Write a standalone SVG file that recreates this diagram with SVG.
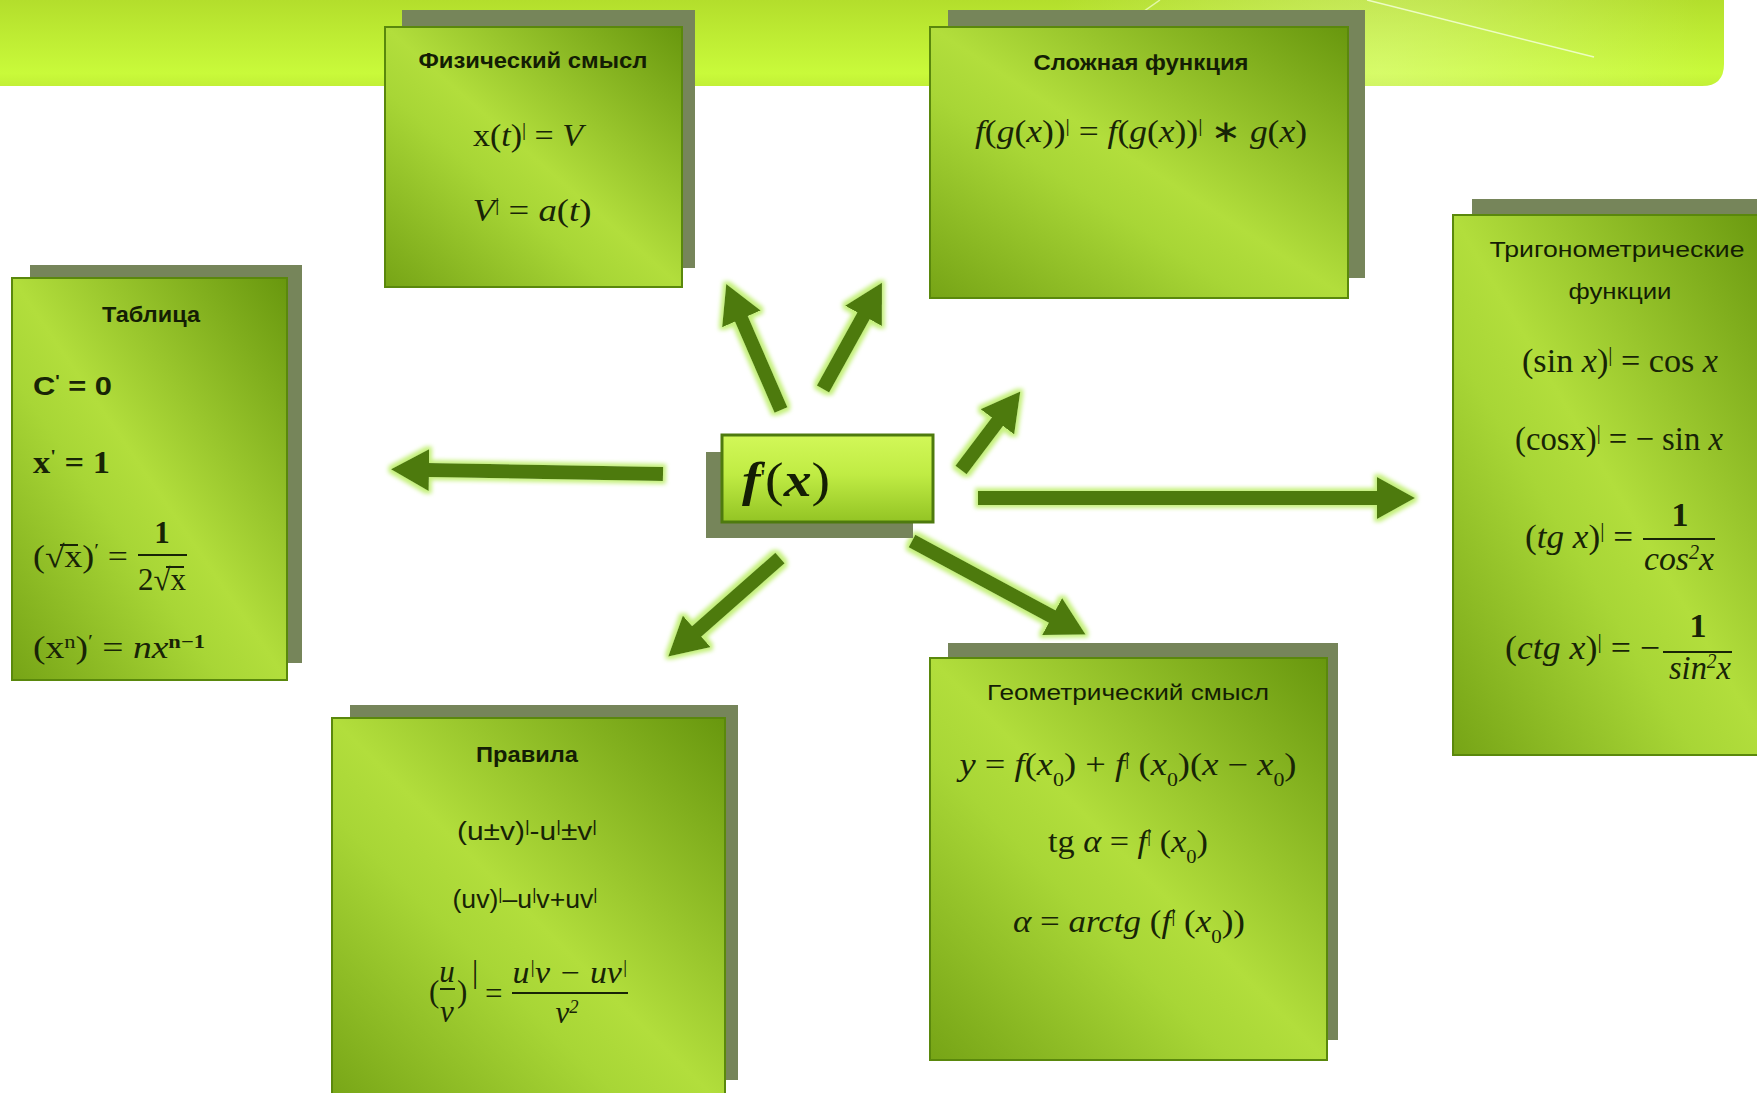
<svg xmlns="http://www.w3.org/2000/svg" width="1757" height="1093" viewBox="0 0 1757 1093">
<defs>
<linearGradient id="banner" x1="0" y1="0" x2="0" y2="1">
<stop offset="0" stop-color="#b3de2c"/>
<stop offset="0.85" stop-color="#c9fa3a"/>
<stop offset="1" stop-color="#c2f036"/>
</linearGradient>
<radialGradient id="bannerGlow" cx="1380" cy="70" r="330" gradientUnits="userSpaceOnUse">
<stop offset="0" stop-color="#f0ffc0" stop-opacity="0.35"/>
<stop offset="1" stop-color="#f0ffc0" stop-opacity="0"/>
</radialGradient>
<linearGradient id="boxFill" x1="1" y1="0" x2="0" y2="1">
<stop offset="0" stop-color="#68970e"/>
<stop offset="0.5" stop-color="#b2de3c"/>
<stop offset="0.62" stop-color="#a8d636"/>
<stop offset="1" stop-color="#76a416"/>
</linearGradient>
<linearGradient id="centerFill" x1="0" y1="0" x2="0" y2="1">
<stop offset="0" stop-color="#d2f858"/>
<stop offset="0.45" stop-color="#c0ec44"/>
<stop offset="1" stop-color="#93c424"/>
</linearGradient>
<marker id="head" markerUnits="userSpaceOnUse" markerWidth="38" markerHeight="42" viewBox="0 0 38 42" refX="1" refY="21" orient="auto">
<path d="M0,0 L38,21 L0,42 Z" fill="#4e7a0e"/>
</marker>
<filter id="glow" filterUnits="userSpaceOnUse" x="0" y="0" width="1757" height="1093">
<feMorphology in="SourceAlpha" operator="dilate" radius="2.5" result="d"/>
<feGaussianBlur in="d" stdDeviation="2" result="b"/>
<feFlood flood-color="#c4f07a"/>
<feComposite in2="b" operator="in" result="g"/>
<feMerge><feMergeNode in="g"/><feMergeNode in="SourceGraphic"/></feMerge>
</filter>
</defs>
<style>
.shadow{fill:#76855a}
.box{fill:url(#boxFill);stroke:#5a880c;stroke-width:2}
.title{font-family:"Liberation Sans",Arial,sans-serif;font-size:22px;font-weight:bold;fill:#141e04;text-anchor:middle}
.title2{font-family:"Liberation Sans",Arial,sans-serif;font-size:22px;fill:#141e04;text-anchor:middle}
.f{font-family:"Liberation Serif","Times New Roman",serif;font-size:31px;fill:#182406}
.ft{font-size:34px}
.fs{font-family:"Liberation Sans",Arial,sans-serif;font-size:26px;fill:#182406}
.c{text-anchor:middle}
.i{font-style:italic}
.b{font-weight:bold}
.sup{font-size:60%;baseline-shift:super}
.sub{font-size:60%;baseline-shift:sub}
.bar{stroke:#182406;stroke-width:2}
.conn{fill:none;stroke:#4e7a0e;stroke-width:14;marker-end:url(#head)}
</style>
<rect width="1757" height="1093" fill="#ffffff"/>
<g id="banner-bg">
<path d="M0,0 H1724 V64 Q1724,86 1702,86 H0 Z" fill="url(#banner)"/>
<path d="M0,0 H1724 V64 Q1724,86 1702,86 H0 Z" fill="url(#bannerGlow)"/>
<line x1="1367" y1="0" x2="1594" y2="57" stroke="#f3ffd6" stroke-width="1.5" opacity="0.85"/>
<line x1="1160" y1="0" x2="1040" y2="84" stroke="#f3ffd6" stroke-width="1.5" opacity="0.7"/>
</g>
<g id="connectors" filter="url(#glow)">
<line class="conn" x1="663" y1="474" x2="428" y2="470"/>
<line class="conn" x1="781" y1="410" x2="741" y2="318"/>
<line class="conn" x1="823" y1="389" x2="864" y2="315"/>
<line class="conn" x1="961" y1="470" x2="998" y2="421"/>
<line class="conn" x1="978" y1="498" x2="1378" y2="498"/>
<line class="conn" x1="780" y1="558" x2="696" y2="632"/>
<line class="conn" x1="912" y1="541" x2="1053" y2="617"/>
</g>
<g id="node-fizicheskiy">
<rect class="shadow" x="402" y="10" width="293" height="258"/>
<rect class="box" x="385" y="27" width="297" height="260"/>
<text class="title" x="533" y="68" textLength="229" lengthAdjust="spacingAndGlyphs">Физический смысл</text>
<text class="f c" x="528" y="146" textLength="110" lengthAdjust="spacingAndGlyphs">x(<tspan class="i">t</tspan>)<tspan class="sup">|</tspan> = <tspan class="i">V</tspan></text>
<text class="f c" x="532" y="221" textLength="119" lengthAdjust="spacingAndGlyphs"><tspan class="i">V</tspan><tspan class="sup">|</tspan> = <tspan class="i">a</tspan>(<tspan class="i">t</tspan>)</text>
</g>
<g id="node-slozhnaya">
<rect class="shadow" x="948" y="10" width="417" height="268"/>
<rect class="box" x="930" y="27" width="418" height="271"/>
<text class="title" x="1141" y="70" textLength="215" lengthAdjust="spacingAndGlyphs">Сложная функция</text>
<text class="f c" x="1141" y="142" textLength="332" lengthAdjust="spacingAndGlyphs"><tspan class="i">f</tspan>(<tspan class="i">g</tspan>(<tspan class="i">x</tspan>))<tspan class="sup">|</tspan> = <tspan class="i">f</tspan>(<tspan class="i">g</tspan>(<tspan class="i">x</tspan>))<tspan class="sup">|</tspan> ∗ <tspan class="i">g</tspan>(<tspan class="i">x</tspan>)</text>
</g>
<g id="node-tablica">
<rect class="shadow" x="30" y="265" width="272" height="398"/>
<rect class="box" x="12" y="278" width="275" height="402"/>
<text class="title" x="151" y="322" textLength="98" lengthAdjust="spacingAndGlyphs">Таблица</text>
<text class="fs b" x="33" y="395" textLength="79" lengthAdjust="spacingAndGlyphs">C<tspan class="sup">'</tspan> = 0</text>
<text class="f b" x="33" y="473" textLength="77" lengthAdjust="spacingAndGlyphs">x<tspan class="sup">'</tspan> = 1</text>
<text class="f" x="33" y="567" textLength="95" lengthAdjust="spacingAndGlyphs">(√x)<tspan class="sup">′</tspan> =</text>
<line class="bar" x1="60" y1="545" x2="78" y2="545" stroke-width="1.5"/>
<text class="f b c" x="162" y="543">1</text>
<line class="bar" x1="138" y1="555" x2="187" y2="555"/>
<text class="f c" x="162" y="590">2√x</text>
<line class="bar" x1="166" y1="567" x2="184" y2="567" stroke-width="1.5"/>
<text class="f" x="33" y="658" textLength="172" lengthAdjust="spacingAndGlyphs">(x<tspan class="sup">n</tspan>)<tspan class="sup">′</tspan> = <tspan class="i">nx</tspan><tspan class="sup b">n−1</tspan></text>
</g>
<g id="node-trig">
<rect class="shadow" x="1472" y="199" width="300" height="538"/>
<rect class="box" x="1453" y="215" width="320" height="540"/>
<text class="title2" x="1617" y="257" font-size="24" textLength="255" lengthAdjust="spacingAndGlyphs">Тригонометрические</text>
<text class="title2" x="1620" y="299" font-size="24" textLength="103" lengthAdjust="spacingAndGlyphs">функции</text>
<text class="f ft c" x="1620" y="372" textLength="196" lengthAdjust="spacingAndGlyphs">(sin <tspan class="i">x</tspan>)<tspan class="sup">|</tspan> = cos <tspan class="i">x</tspan></text>
<text class="f ft c" x="1619" y="450" textLength="208" lengthAdjust="spacingAndGlyphs">(cosx)<tspan class="sup">|</tspan> = − sin <tspan class="i">x</tspan></text>
<text class="f ft" x="1525" y="548" textLength="108" lengthAdjust="spacingAndGlyphs">(<tspan class="i">tg x</tspan>)<tspan class="sup">|</tspan> =</text>
<text class="f ft b c" x="1680" y="526">1</text>
<line class="bar" x1="1643" y1="539" x2="1715" y2="539"/>
<text class="f ft i c" x="1679" y="570" textLength="70" lengthAdjust="spacingAndGlyphs">cos<tspan class="sup">2</tspan>x</text>
<text class="f ft" x="1505" y="659" textLength="155" lengthAdjust="spacingAndGlyphs">(<tspan class="i">ctg x</tspan>)<tspan class="sup">|</tspan> = −</text>
<text class="f ft b c" x="1698" y="637">1</text>
<line class="bar" x1="1663" y1="652" x2="1732" y2="652"/>
<text class="f ft i c" x="1700" y="679" textLength="62" lengthAdjust="spacingAndGlyphs">sin<tspan class="sup">2</tspan>x</text>
</g>
<g id="node-pravila">
<rect class="shadow" x="350" y="705" width="388" height="375"/>
<rect class="box" x="332" y="718" width="393" height="390"/>
<text class="title" x="527" y="762" textLength="102" lengthAdjust="spacingAndGlyphs">Правила</text>
<text class="fs c" x="527" y="840" textLength="140" lengthAdjust="spacingAndGlyphs">(u±v)<tspan class="sup">|</tspan>-u<tspan class="sup">|</tspan>±v<tspan class="sup">|</tspan></text>
<text class="fs c" x="525" y="908" textLength="145" lengthAdjust="spacingAndGlyphs">(uv)<tspan class="sup">|</tspan>–u<tspan class="sup">|</tspan>v+uv<tspan class="sup">|</tspan></text>
<text class="f" x="429" y="1002" font-size="38">(</text>
<text class="f i c" x="447" y="982" font-size="24">u</text>
<line class="bar" x1="440" y1="989" x2="455" y2="989"/>
<text class="f i c" x="447" y="1022" font-size="24">v</text>
<text class="f" x="457" y="1002" font-size="38">)</text>
<text class="f" x="472" y="982" font-size="16">|</text>
<text class="f" x="485" y="1004">=</text>
<text class="f i c" x="570" y="983" textLength="115" lengthAdjust="spacingAndGlyphs">u<tspan class="sup">|</tspan>v − uv<tspan class="sup">|</tspan></text>
<line class="bar" x1="512" y1="993" x2="628" y2="993"/>
<text class="f i c" x="567" y="1023">v<tspan class="sup">2</tspan></text>
</g>
<g id="node-geometr">
<rect class="shadow" x="948" y="643" width="390" height="397"/>
<rect class="box" x="930" y="658" width="397" height="402"/>
<text class="title2" x="1128" y="700" textLength="282" lengthAdjust="spacingAndGlyphs">Геометрический смысл</text>
<text class="f c" x="1128" y="775" textLength="337" lengthAdjust="spacingAndGlyphs"><tspan class="i">y</tspan> = <tspan class="i">f</tspan>(<tspan class="i">x</tspan><tspan class="sub">0</tspan>) + <tspan class="i">f</tspan><tspan class="sup">|</tspan> (<tspan class="i">x</tspan><tspan class="sub">0</tspan>)(<tspan class="i">x</tspan> − <tspan class="i">x</tspan><tspan class="sub">0</tspan>)</text>
<text class="f c" x="1128" y="852" textLength="160" lengthAdjust="spacingAndGlyphs">tg <tspan class="i">α</tspan> = <tspan class="i">f</tspan><tspan class="sup">|</tspan> (<tspan class="i">x</tspan><tspan class="sub">0</tspan>)</text>
<text class="f c" x="1129" y="932" textLength="232" lengthAdjust="spacingAndGlyphs"><tspan class="i">α</tspan> = <tspan class="i">arctg</tspan> (<tspan class="i">f</tspan><tspan class="sup">|</tspan> (<tspan class="i">x</tspan><tspan class="sub">0</tspan>))</text>
</g>
<g id="node-center">
<rect class="shadow" x="706" y="452" width="207" height="86"/>
<rect x="722" y="435" width="211" height="87" fill="url(#centerFill)" stroke="#4e7a0e" stroke-width="3"/>
<text x="742" y="496" font-family="'Liberation Serif','Times New Roman',serif" font-size="48" fill="#141e04" textLength="88" lengthAdjust="spacingAndGlyphs"><tspan font-weight="bold" font-style="italic">f</tspan><tspan font-size="22" dy="-12">'</tspan><tspan dy="12">(</tspan><tspan font-weight="bold" font-style="italic">x</tspan>)</text>
</g>
</svg>
